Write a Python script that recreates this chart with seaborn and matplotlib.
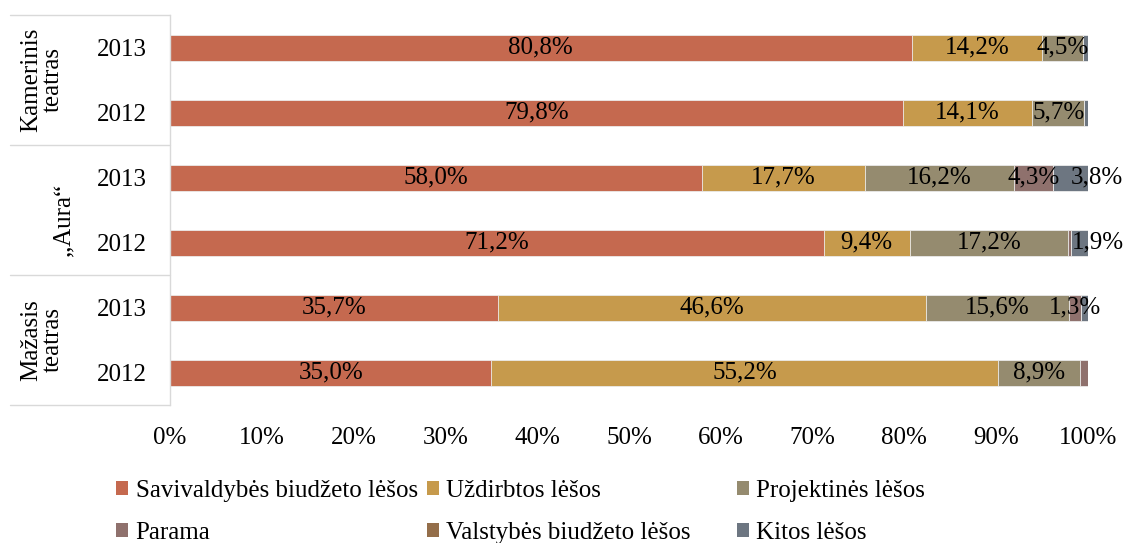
import numpy as np
import pandas as pd
import seaborn as sns
import matplotlib
matplotlib.use("Agg")
import matplotlib.pyplot as plt
from matplotlib.patches import Patch
from matplotlib.transforms import blended_transform_factory

# ---------------- data ----------------
rows = ["Kamerinis 2013", "Kamerinis 2012", "Aura 2013", "Aura 2012",
        "Mažasis 2013", "Mažasis 2012"]
years = ["2013", "2012", "2013", "2012", "2013", "2012"]
theatres = ["Kamerinis\nteatras", "„Aura“", "Mažasis\nteatras"]
series = ["Savivaldybės biudžeto lėšos", "Uždirbtos lėšos", "Projektinės lėšos",
          "Parama", "Valstybės biudžeto lėšos", "Kitos lėšos"]
savivaldybes = [80.8, 79.8, 58.0, 71.2, 35.7, 35.0]
uzdirbtos = [14.2, 14.1, 17.7, 9.4, 46.6, 55.2]
projektines = [4.5, 5.7, 16.2, 17.2, 15.6, 8.9]
parama = [0.0, 0.0, 4.3, 0.3, 1.3, 0.9]
valstybes = [0.0, 0.0, 0.0, 0.0, 0.0, 0.0]
kitos = [0.5, 0.4, 3.8, 1.9, 0.8, 0.0]
xticks = [0, 10, 20, 30, 40, 50, 60, 70, 80, 90, 100]

colors = ["#C5694F", "#C69A4C", "#958B6F", "#8F716D", "#946E4A", "#6D7681"]

# label nudges (layout only): (series index, row index) -> x shift
label_nudge = {(5, 2): 2.9, (5, 3): 2.0}

# ---------------- style ----------------
sns.set_theme(style="white")
FONT = "Liberation Serif"
plt.rcParams["font.family"] = [FONT, "DejaVu Serif"]
plt.rcParams["text.color"] = "black"
plt.rcParams["axes.labelcolor"] = "black"
plt.rcParams["xtick.color"] = "black"
plt.rcParams["ytick.color"] = "black"
FS = 18

W, H = 1127, 543
fig = plt.figure(figsize=(W / 100, H / 100), dpi=100)
ax = fig.add_axes([170 / W, 1 - 405 / H, (1088 - 170) / W, (405 - 15) / H])

values = np.array([savivaldybes, uzdirbtos, projektines, parama, valstybes, kitos])
cum = np.cumsum(values, axis=0)

# stacked bars: cumulative totals drawn from back to front
for i in reversed(range(len(series))):
    df = pd.DataFrame({"row": rows, "val": cum[i]})
    sns.barplot(data=df, x="val", y="row", orient="h", color=colors[i],
                saturation=1, width=0.4, errorbar=None, ax=ax,
                edgecolor="#EDEDED", linewidth=0.6)

# data labels
for i in range(len(series)):
    for j in range(len(rows)):
        v = values[i, j]
        if v >= 1.0:
            ax.text(cum[i, j] - v / 2 + label_nudge.get((i, j), 0), j,
                    f"{v:.1f}".replace(".", ",") + "%",
                    ha="center", va="center", fontsize=FS, color="black")

ax.set_xlim(0, 100)
ax.set_ylim(len(rows) - 0.5, -0.5)
ax.set_xticks(xticks)
ax.set_xticklabels([f"{t}%" for t in xticks], fontsize=FS)
ax.set_yticks(range(len(rows)))
ax.set_yticklabels(years, fontsize=FS)
ax.set_xlabel("")
ax.set_ylabel("")
ax.tick_params(axis="x", length=0, pad=16, colors="black")
ax.tick_params(axis="y", length=0, pad=16.5, colors="black")
for s in ["top", "right", "bottom"]:
    ax.spines[s].set_visible(False)
ax.spines["left"].set_color("#D9D9D9")
ax.spines["left"].set_linewidth(1)

# multi-level category frame
tr = blended_transform_factory(ax.transAxes, ax.transData)
x0 = (10 - 170) / (1088 - 170)
for yb in [-0.5, 1.5, 3.5, 5.5]:
    ax.plot([x0, 0], [yb, yb], transform=tr, color="#D9D9D9", lw=1, clip_on=False)

group_x = [(42 - 170) / 918, (63 - 170) / 918, (42 - 170) / 918]
group_y = [0.5, 2.65, 4.5]
for k, name in enumerate(theatres):
    ax.text(group_x[k], group_y[k], name, transform=tr, rotation=90,
            ha="center", va="center", fontsize=FS, linespacing=1.0,
            multialignment="center", color="black")

# legend (three columns placed separately)
handles = [Patch(facecolor=c, edgecolor="none") for c in colors]
col_x = [116, 427, 737]
for c in range(3):
    idx = [c, c + 3]
    leg = fig.legend([handles[k] for k in idx], [series[k] for k in idx],
                     loc="upper left", bbox_to_anchor=(col_x[c] / W, 1 - 480 / H),
                     frameon=False, fontsize=FS, handlelength=0.48, handleheight=0.48,
                     handletextpad=0.3, labelspacing=0.79, borderpad=0, borderaxespad=0,
                     labelcolor="black")

fig.savefig("out.png", dpi=100)
